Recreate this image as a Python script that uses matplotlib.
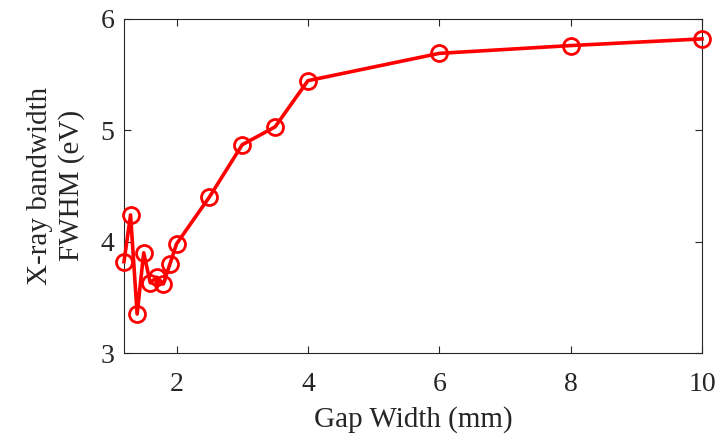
import matplotlib

matplotlib.use("Agg")
import matplotlib.pyplot as plt

# Gap width (mm) vs X-ray bandwidth FWHM (eV)
gap_mm = [1.2, 1.3, 1.4, 1.5, 1.6, 1.7, 1.8, 1.9, 2.0, 2.5, 3.0, 3.5, 4.0, 6.0, 8.0, 10.0]
fwhm_ev = [3.82, 4.24, 3.35, 3.90, 3.63, 3.68, 3.62, 3.80, 3.98, 4.40, 4.87, 5.03, 5.445, 5.69, 5.76, 5.82]

x_ticks = [2, 4, 6, 8, 10]
y_ticks = [3, 4, 5, 6]

plt.rcParams["font.family"] = ["Liberation Serif", "DejaVu Serif"]

fig = plt.figure(figsize=(7.23, 4.38), dpi=100)
ax = fig.add_axes([0.1715, 0.194, 0.7995, 0.763])

ax.plot(
    gap_mm,
    fwhm_ev,
    color="#ff0000",
    linewidth=2.6,
    marker="o",
    markersize=11.5,
    markerfacecolor="none",
    markeredgewidth=2.0,
    clip_on=False,
    zorder=3,
)

ax.set_xlim(1.2, 10)
ax.set_ylim(3, 6)
ax.set_xticks(x_ticks)
ax.set_yticks(y_ticks)
ax.tick_params(direction="in", top=True, right=True, length=5, width=0.8,
               labelsize=20, colors="#262626")
ax.tick_params(axis="x", pad=14)
ax.tick_params(axis="y", pad=7)
for s in ax.spines.values():
    s.set_color("#262626")
    s.set_linewidth(0.8)

ax.set_xlabel("Gap Width (mm)", fontsize=21, color="#262626", labelpad=6)
ax.set_ylabel("X-ray bandwidth\nFWHM (eV)", fontsize=21, color="#262626",
              linespacing=1.25, labelpad=11)

fig.savefig("out.png", dpi=100)
